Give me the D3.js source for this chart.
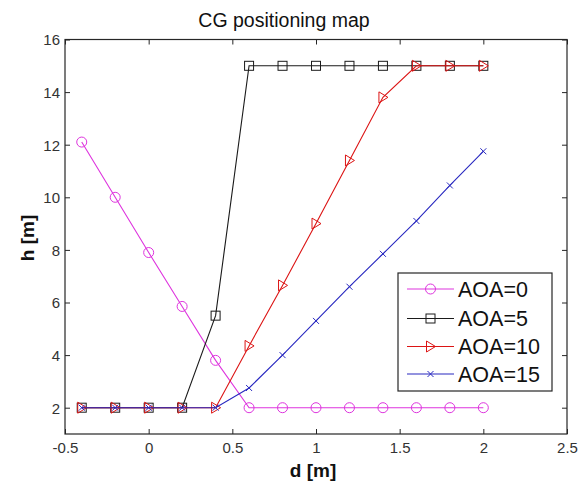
<!DOCTYPE html>
<html>
<head>
<meta charset="utf-8">
<script src="https://cdn.jsdelivr.net/npm/d3@7"></script>
<style>
  html, body { margin: 0; padding: 0; background: #fff; }
  svg { display: block; font-family: "Liberation Sans", Arial, sans-serif; }
</style>
</head>
<body>
<svg id="chart" width="578" height="485"></svg>
<script>
// ---- data ----
const dValues = [-0.4, -0.2, 0, 0.2, 0.4, 0.6, 0.8, 1.0, 1.2, 1.4, 1.6, 1.8, 2.0];
const aoa0  = [12.1, 10.0, 7.9, 5.85, 3.8, 2, 2, 2, 2, 2, 2, 2, 2];
const aoa5  = [2, 2, 2, 2, 5.5, 15, 15, 15, 15, 15, 15, 15, 15];
const aoa10 = [2, 2, 2, 2, 2, 4.35, 6.65, 9.0, 11.4, 13.8, 15, 15, 15];
const aoa15 = [2, 2, 2, 2, 2, 2.75, 4.0, 5.3, 6.6, 7.85, 9.1, 10.45, 11.75];
const seriesNames = ["AOA=0", "AOA=5", "AOA=10", "AOA=15"];
const xTicks = [-0.5, 0, 0.5, 1, 1.5, 2, 2.5];
const yTicks = [2, 4, 6, 8, 10, 12, 14, 16];

const series = [
  { name: seriesNames[0], values: aoa0,  color: "#de34de", marker: "circle" },
  { name: seriesNames[1], values: aoa5,  color: "#1a1a1a", marker: "square" },
  { name: seriesNames[2], values: aoa10, color: "#dc1414", marker: "triangle" },
  { name: seriesNames[3], values: aoa15, color: "#2828c0", marker: "cross" }
];

const svg = d3.select("#chart");
const L = 65, R = 567, T = 39.5, B = 434;
const x = d3.scaleLinear().domain([-0.5, 2.5]).range([L, R]);
const y = d3.scaleLinear().domain([1, 16]).range([B, T]);
const axisColor = "#262626";

svg.append("rect").attr("x", L).attr("y", T).attr("width", R - L).attr("height", B - T)
  .attr("fill", "#fff");

// axes with inward ticks
const tickLen = 5;
const gB = svg.append("g").attr("transform", `translate(0,${B})`)
  .call(d3.axisBottom(x).tickValues(xTicks).tickSizeInner(-tickLen).tickSizeOuter(0)
    .tickFormat(d => String(d)));
const gT = svg.append("g").attr("transform", `translate(0,${T})`)
  .call(d3.axisTop(x).tickValues(xTicks).tickSizeInner(-tickLen).tickSizeOuter(0).tickFormat(""));
const gL = svg.append("g").attr("transform", `translate(${L},0)`)
  .call(d3.axisLeft(y).tickValues(yTicks).tickSizeInner(-tickLen).tickSizeOuter(0).tickPadding(5)
    .tickFormat(d => String(d)));
const gR = svg.append("g").attr("transform", `translate(${R},0)`)
  .call(d3.axisRight(y).tickValues(yTicks).tickSizeInner(-tickLen).tickSizeOuter(0).tickFormat(""));

[gB, gT, gL, gR].forEach(g => {
  g.select(".domain").remove();
  g.selectAll(".tick line").attr("stroke", axisColor);
  g.selectAll(".tick text").attr("fill", "#333").attr("font-size", 15)
    .attr("font-family", "'Liberation Sans', Arial, sans-serif");
});
gB.selectAll(".tick text").attr("dy", "0.71em").attr("y", 8);
gL.selectAll(".tick text").attr("dy", "0.36em");

// box
svg.append("rect").attr("x", L).attr("y", T).attr("width", R - L).attr("height", B - T)
  .attr("fill", "none").attr("stroke", axisColor).attr("stroke-width", 1.2);

// markers
function drawMarker(g, type, cx, cy, color) {
  if (type === "circle") {
    g.append("circle").attr("cx", cx).attr("cy", cy).attr("r", 5)
      .attr("fill", "none").attr("stroke", color).attr("stroke-width", 1);
  } else if (type === "square") {
    g.append("rect").attr("x", cx - 4.5).attr("y", cy - 4.5).attr("width", 9).attr("height", 9)
      .attr("fill", "none").attr("stroke", color).attr("stroke-width", 1);
  } else if (type === "triangle") {
    g.append("path").attr("d", `M${cx - 4},${cy - 5.5}L${cx + 5},${cy}L${cx - 4},${cy + 5.5}Z`)
      .attr("fill", "none").attr("stroke", color).attr("stroke-width", 1);
  } else if (type === "cross") {
    g.append("path").attr("d", `M${cx - 3},${cy - 3}L${cx + 3},${cy + 3}M${cx - 3},${cy + 3}L${cx + 3},${cy - 3}`)
      .attr("fill", "none").attr("stroke", color).attr("stroke-width", 1);
  }
}

const line = d3.line().x(d => x(d[0])).y(d => y(d[1]));
series.forEach(s => {
  const pts = dValues.map((d, i) => [d, s.values[i]]);
  const g = svg.append("g");
  g.append("path").attr("d", line(pts)).attr("fill", "none")
    .attr("stroke", s.color).attr("stroke-width", 1.1);
  pts.forEach(p => drawMarker(g, s.marker, x(p[0]), y(p[1]), s.color));
});

// legend
const lg = svg.append("g");
lg.append("rect").attr("x", 398).attr("y", 273).attr("width", 154).attr("height", 118)
  .attr("fill", "#fff").attr("stroke", axisColor).attr("stroke-width", 1.2);
const legY = [289, 318.5, 346.5, 374];
series.forEach((s, i) => {
  const yy = legY[i];
  lg.append("line").attr("x1", 407).attr("x2", 454).attr("y1", yy).attr("y2", yy)
    .attr("stroke", s.color).attr("stroke-width", 1.1);
  drawMarker(lg, s.marker, 430.5, yy, s.color);
  lg.append("text").attr("x", 458).attr("y", yy).attr("dy", "0.36em")
    .attr("font-size", 21.5).attr("fill", "#111").text(s.name);
});

// title and axis labels
svg.append("text").attr("x", 284).attr("y", 27).attr("text-anchor", "middle")
  .attr("font-size", 19.5).attr("fill", "#111").text("CG positioning map");
svg.append("text").attr("x", 313).attr("y", 477).attr("text-anchor", "middle")
  .attr("font-size", 19).attr("font-weight", "bold").attr("fill", "#111").text("d [m]");
svg.append("text").attr("transform", "translate(34,238) rotate(-90)").attr("text-anchor", "middle")
  .attr("font-size", 19).attr("font-weight", "bold").attr("fill", "#111").text("h [m]");
</script>
</body>
</html>
